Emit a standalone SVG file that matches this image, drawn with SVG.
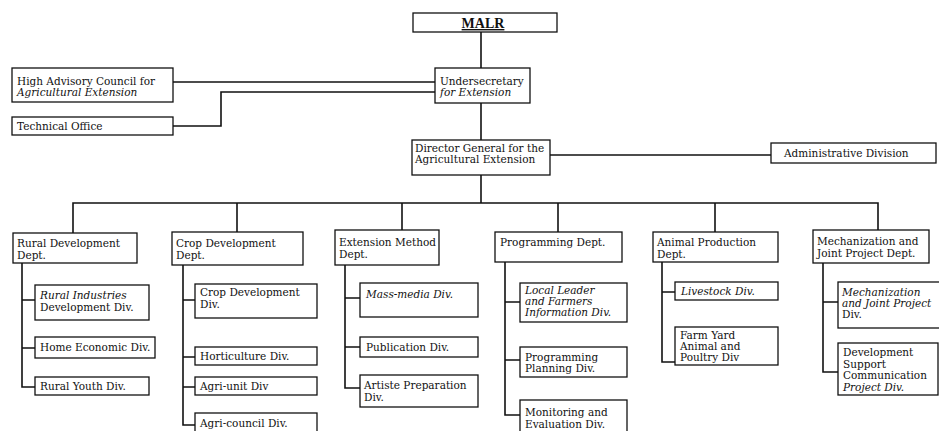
<svg xmlns="http://www.w3.org/2000/svg" width="939" height="431" viewBox="0 0 939 431">
  <style>
    .box { fill: #ffffff; stroke: #111111; stroke-width: 1.3; }
    .conn { fill: none; stroke: #111111; stroke-width: 1.6; }
    text { font-family: "DejaVu Serif", "Liberation Serif", serif; font-size: 10.5px; fill: #111111; }
    .i { font-style: italic; }
    .title { font-family: "Liberation Serif", serif; font-size: 14px; font-weight: bold; text-decoration: underline; }
  </style>
  <rect width="939" height="431" fill="#ffffff"/>

  <!-- connectors -->
  <g id="connectors" class="conn">
    <path d="M481 32 V68"/>
    <path d="M481 103 V140"/>
    <path d="M173 82 H435"/>
    <path d="M173 126 H221 V92 H435"/>
    <path d="M550 155 H771"/>
    <path d="M481 175 V203"/>
    <path d="M73 233 V203 H878 V230"/>
    <path d="M237 203 V232"/>
    <path d="M402 203 V230"/>
    <path d="M558 203 V232"/>
    <path d="M715 203 V232"/>
    <!-- Rural Development -->
    <path d="M22 263 V387 H35 M22 300 H35 M22 348 H35"/>
    <!-- Crop Development -->
    <path d="M183 265 V425 H195 M183 300 H195 M183 357 H195 M183 387 H195"/>
    <!-- Extension Method -->
    <path d="M345 265 V388 H360 M345 298 H360 M345 347 H360"/>
    <!-- Programming -->
    <path d="M505 262 V415 H520 M505 302 H520 M505 360 H520"/>
    <!-- Animal Production -->
    <path d="M662 262 V362 H675 M662 292 H675"/>
    <!-- Mechanization -->
    <path d="M823 263 V372 H838 M823 302 H838"/>
  </g>

  <!-- top level -->
  <g id="malr">
    <rect class="box" x="413" y="13" width="144" height="19"/>
    <text class="title" x="483" y="28" text-anchor="middle">MALR</text>
  </g>
  <g id="undersecretary">
    <rect class="box" x="435" y="68" width="95" height="35"/>
    <text x="440" y="85">Undersecretary</text>
    <text class="i" x="440" y="96">for Extension</text>
  </g>
  <g id="high-advisory-council">
    <rect class="box" x="12" y="68" width="161" height="34"/>
    <text x="17" y="85">High Advisory Council for</text>
    <text class="i" x="17" y="96">Agricultural Extension</text>
  </g>
  <g id="technical-office">
    <rect class="box" x="12" y="117" width="161" height="18"/>
    <text x="17" y="130">Technical Office</text>
  </g>
  <g id="director-general">
    <rect class="box" x="412" y="140" width="138" height="35"/>
    <text x="415" y="152">Director General for the</text>
    <text x="415" y="163">Agricultural Extension</text>
  </g>
  <g id="administrative-division">
    <rect class="box" x="771" y="143" width="165" height="20"/>
    <text x="784" y="157">Administrative Division</text>
  </g>

  <!-- Rural Development Dept. -->
  <g id="rural-dept">
    <rect class="box" x="13" y="233" width="124" height="30"/>
    <text x="17" y="247">Rural Development</text>
    <text x="17" y="259">Dept.</text>
  </g>
  <g id="rural-industries">
    <rect class="box" x="35" y="285" width="114" height="35"/>
    <text class="i" x="40" y="299">Rural Industries</text>
    <text x="40" y="311">Development Div.</text>
  </g>
  <g id="home-economic">
    <rect class="box" x="35" y="337" width="120" height="21"/>
    <text x="40" y="351">Home Economic Div.</text>
  </g>
  <g id="rural-youth">
    <rect class="box" x="35" y="377" width="114" height="18"/>
    <text x="40" y="390">Rural Youth Div.</text>
  </g>

  <!-- Crop Development Dept. -->
  <g id="crop-dept">
    <rect class="box" x="172" y="232" width="131" height="33"/>
    <text x="176" y="247">Crop Development</text>
    <text x="176" y="259">Dept.</text>
  </g>
  <g id="crop-development-div">
    <rect class="box" x="195" y="284" width="122" height="34"/>
    <text x="200" y="296">Crop Development</text>
    <text x="200" y="308">Div.</text>
  </g>
  <g id="horticulture">
    <rect class="box" x="195" y="347" width="122" height="18"/>
    <text x="200" y="360">Horticulture Div.</text>
  </g>
  <g id="agri-unit">
    <rect class="box" x="195" y="377" width="122" height="18"/>
    <text x="200" y="390">Agri-unit Div</text>
  </g>
  <g id="agri-council">
    <rect class="box" x="195" y="413" width="122" height="20"/>
    <text x="200" y="427">Agri-council Div.</text>
  </g>

  <!-- Extension Method Dept. -->
  <g id="extension-dept">
    <rect class="box" x="335" y="230" width="104" height="35"/>
    <text x="339" y="246">Extension Method</text>
    <text x="339" y="258">Dept.</text>
  </g>
  <g id="mass-media">
    <rect class="box" x="360" y="283" width="118" height="34"/>
    <text class="i" x="366" y="298">Mass-media Div.</text>
  </g>
  <g id="publication">
    <rect class="box" x="360" y="337" width="118" height="20"/>
    <text x="366" y="351">Publication Div.</text>
  </g>
  <g id="artiste-preparation">
    <rect class="box" x="360" y="375" width="118" height="32"/>
    <text x="364" y="389">Artiste Preparation</text>
    <text x="364" y="401">Div.</text>
  </g>

  <!-- Programming Dept. -->
  <g id="programming-dept">
    <rect class="box" x="495" y="232" width="127" height="30"/>
    <text x="500" y="246">Programming Dept.</text>
  </g>
  <g id="local-leader">
    <rect class="box" x="520" y="283" width="107" height="39"/>
    <text class="i" x="525" y="294">Local Leader</text>
    <text class="i" x="525" y="305">and Farmers</text>
    <text class="i" x="525" y="316">Information Div.</text>
  </g>
  <g id="programming-planning">
    <rect class="box" x="520" y="347" width="107" height="30"/>
    <text x="525" y="361">Programming</text>
    <text x="525" y="372">Planning Div.</text>
  </g>
  <g id="monitoring-evaluation">
    <rect class="box" x="520" y="400" width="107" height="32"/>
    <text x="525" y="416">Monitoring and</text>
    <text x="525" y="428">Evaluation Div.</text>
  </g>

  <!-- Animal Production Dept. -->
  <g id="animal-dept">
    <rect class="box" x="653" y="232" width="125" height="30"/>
    <text x="657" y="246">Animal Production</text>
    <text x="657" y="258">Dept.</text>
  </g>
  <g id="livestock">
    <rect class="box" x="675" y="282" width="103" height="18"/>
    <text class="i" x="681" y="295">Livestock Div.</text>
  </g>
  <g id="farm-yard">
    <rect class="box" x="675" y="327" width="103" height="38"/>
    <text x="680" y="339">Farm Yard</text>
    <text x="680" y="350">Animal and</text>
    <text x="680" y="361">Poultry Div</text>
  </g>

  <!-- Mechanization and Joint Project Dept. -->
  <g id="mechanization-dept">
    <rect class="box" x="813" y="230" width="116" height="33"/>
    <text x="817" y="245">Mechanization and</text>
    <text x="817" y="257">Joint Project Dept.</text>
  </g>
  <g id="mechanization-div">
    <rect class="box" x="838" y="282" width="104" height="46"/>
    <text class="i" x="842" y="296">Mechanization</text>
    <text class="i" x="842" y="307">and Joint Project</text>
    <text x="842" y="318">Div.</text>
  </g>
  <g id="development-support">
    <rect class="box" x="838" y="343" width="100" height="52"/>
    <text x="843" y="356">Development</text>
    <text x="843" y="367.5">Support</text>
    <text x="843" y="379">Communication</text>
    <text class="i" x="843" y="390.5">Project Div.</text>
  </g>
</svg>
